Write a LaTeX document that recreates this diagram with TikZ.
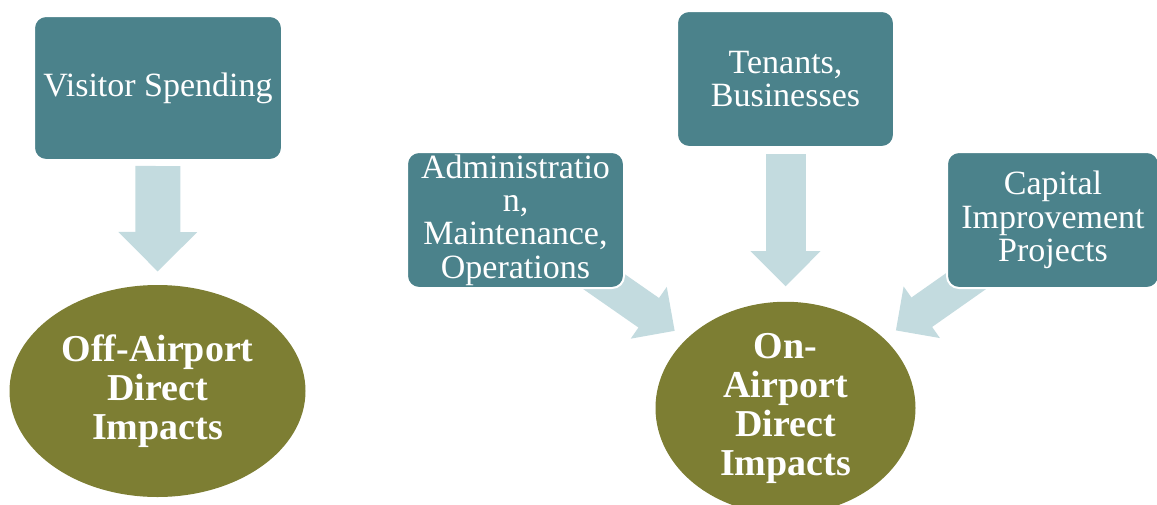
\documentclass[tikz,border=0pt]{standalone}
\usepackage{fontspec}
\setmainfont{Liberation Serif}
\usetikzlibrary{shapes.geometric,arrows.meta,backgrounds}
\definecolor{teal}{RGB}{75,130,139}
\definecolor{olive}{RGB}{125,126,51}
\definecolor{pale}{RGB}{195,219,223}
\tikzset{
 box/.style={rectangle,rounded corners=6pt,fill=teal,draw=white,line width=1pt,
  text=white,align=center,inner sep=0pt,font=\fontsize{17}{16.7}\selectfont},
 blob/.style={ellipse,fill=olive,text=white,align=center,inner sep=0pt,
  font=\fontsize{19}{19.5}\selectfont\bfseries},
 flow/.style={draw=pale,line width=#1,-{Triangle[width=0pt 1.7,length=0pt 0.88]}}
}
\begin{document}
\begin{tikzpicture}[x=.5pt,y=-.5pt]
\useasboundingbox(0,0)rectangle(1157,504);
\node[box,minimum width=124pt,minimum height=72pt](visit)at(158,88){Visitor Spending};
\node[box,minimum width=108.5pt,minimum height=68pt](tenant)at(785.5,79){Tenants,\\Businesses};
\node[box,minimum width=108.5pt,minimum height=68pt](admin)at(515.5,220){Administratio\\n,\\Maintenance,\\Operations};
\node[box,minimum width=106pt,minimum height=68pt](capital)at(1053,220){Capital\\Improvement\\Projects};
\node[blob,minimum width=148pt,minimum height=106pt](off)at(157.5,391){Off-Airport\\Direct\\Impacts};
\node[blob,minimum width=130pt,minimum height=103pt](on)at(785.5,408){On-\\Airport\\Direct\\Impacts};
\begin{scope}[on background layer]
\draw[flow=22.5pt,shorten <=2.5pt,shorten >=6.5pt](visit)--(off);
\draw[flow=20pt,shorten <=3pt,shorten >=7.5pt](tenant)--(on);
\foreach \s in {admin,capital}\draw[flow=18pt,shorten >=7pt](\s.center)--(on);
\end{scope}
\end{tikzpicture}
\end{document}
